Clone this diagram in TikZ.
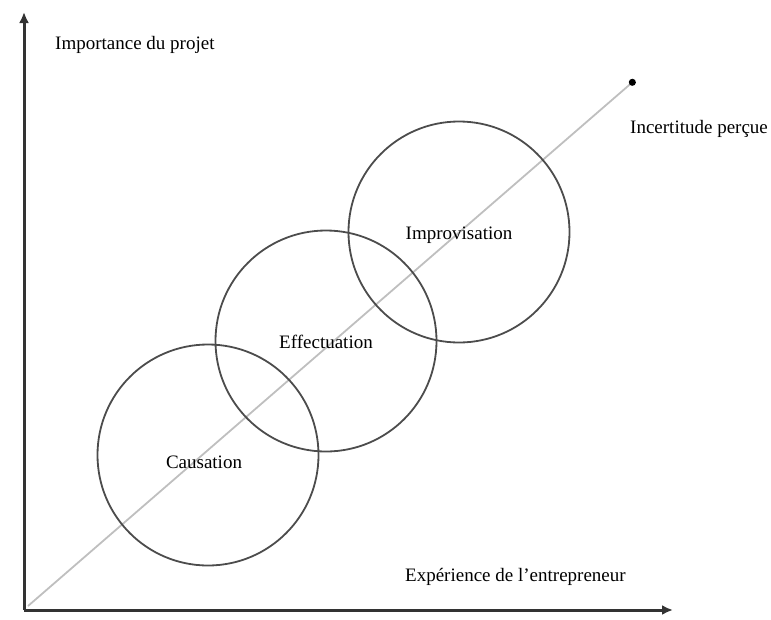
\documentclass[tikz,border=0pt]{standalone}
\usepackage{fontspec}
\setmainfont{Liberation Serif}
\usetikzlibrary{arrows.meta}
\begin{document}
\begin{tikzpicture}[x=1pt,y=-1pt,
  axisline/.style={line width=3pt,draw=black!80,-{Latex[length=11pt,width=10pt]}},
  diag/.style={line width=1.8pt,draw=black!25,-{Circle[length=7pt,width=7pt,black]}},
  zone/.style={circle,draw=black!70,line width=1.8pt,minimum size=221pt,inner sep=0pt},
  lbl/.style={font=\fontsize{19}{22}\selectfont,inner sep=0pt}]
\useasboundingbox (0,0) rectangle (771,619);
\coordinate (o) at (24,610);
\coordinate (ytop) at (24,12);
\coordinate (xend) at (673,610);
\coordinate (dstart) at (28,606);
\coordinate (dend) at (635,80);
\draw[diag] (dstart) -- (dend);
\node[zone] (cau) at (208,455) {};
\node[zone] (eff) at (326,341) {};
\node[zone] (imp) at (459,232) {};
\node[lbl] (tcau) at (204,462) {Causation};
\node[lbl] (teff) at (326,342) {Effectuation};
\node[lbl] (timp) at (459,235) {Improvisation};
\draw[axisline] (o) -- (ytop);
\draw[axisline] (o) -- (xend);
\node[lbl,anchor=west] (ty) at (55,45) {Importance du projet};
\node[lbl,anchor=west] (td) at (630,129) {Incertitude perçue};
\node[lbl,anchor=west] (tx) at (405,577) {Expérience de l’entrepreneur};
\end{tikzpicture}
\end{document}
